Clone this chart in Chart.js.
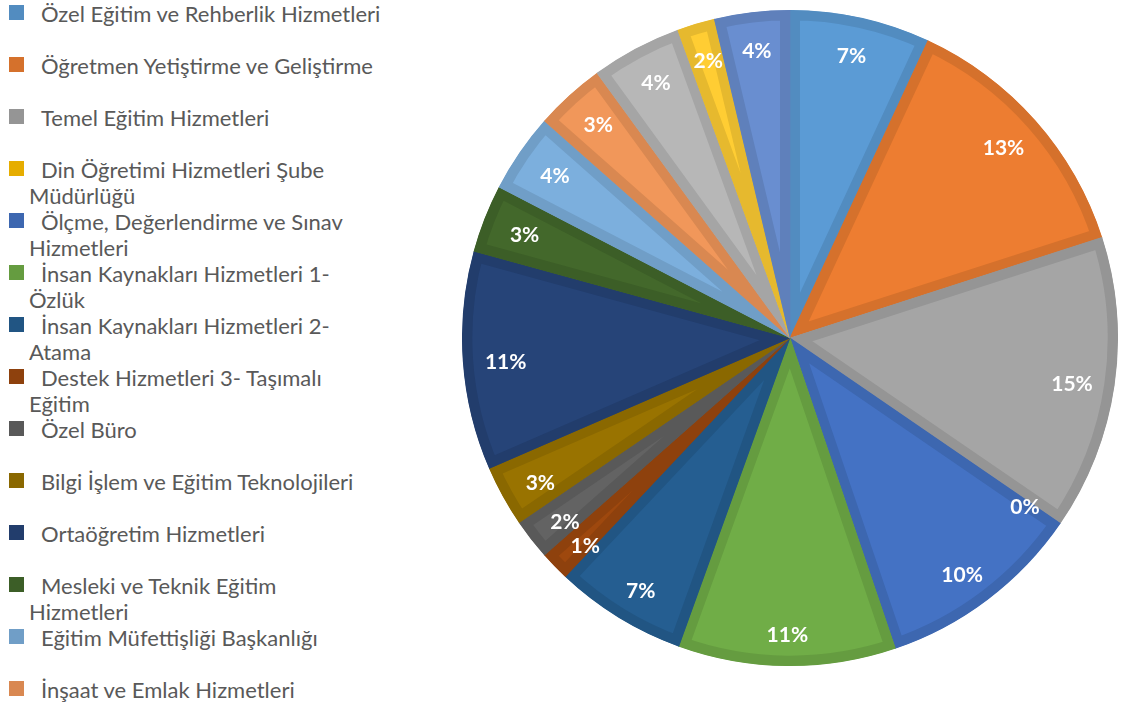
<!DOCTYPE html>
<html>
<head>
<meta charset="utf-8">
<script src="https://cdn.jsdelivr.net/npm/chart.js@4.4.1/dist/chart.umd.min.js"></script>
<style>
    body { margin: 0; background: #fff; width: 1123px; height: 703px; overflow: hidden; position: relative; font-family: Lato, sans-serif; }
    #legend { position: absolute; left: 0; top: 0; width: 440px; height: 703px; overflow: hidden; }
    .item { position: absolute; left: 29px; width: 400px; font-size: 22px; line-height: 26px; color: #595959; text-indent: 12px; white-space: nowrap; }
    .box { position: absolute; left: 9px; width: 15px; height: 15px; }
    #wrap { position: absolute; left: 462px; top: 10px; width: 656px; height: 656px; }
</style>
</head>
<body>
<div id="legend"></div>
<div id="wrap"><canvas id="pie"></canvas></div>
<script>
const categories = [
    ['Özel Eğitim ve Rehberlik Hizmetleri'],
    ['Öğretmen Yetiştirme ve Geliştirme'],
    ['Temel Eğitim Hizmetleri'],
    ['Din Öğretimi Hizmetleri Şube', 'Müdürlüğü'],
    ['Ölçme, Değerlendirme ve Sınav', 'Hizmetleri'],
    ['İnsan Kaynakları Hizmetleri 1-', 'Özlük'],
    ['İnsan Kaynakları Hizmetleri 2-', 'Atama'],
    ['Destek Hizmetleri 3- Taşımalı', 'Eğitim'],
    ['Özel Büro'],
    ['Bilgi İşlem ve Eğitim Teknolojileri'],
    ['Ortaöğretim Hizmetleri'],
    ['Mesleki ve Teknik Eğitim', 'Hizmetleri'],
    ['Eğitim Müfettişliği Başkanlığı'],
    ['İnşaat ve Emlak Hizmetleri'],
    ['Hayat Boyu Öğrenme Hizmetleri'],
    ['Özel Öğretim Kurumları Hizmetleri'],
    ['Strateji Geliştirme Hizmetleri'],
];
const values = [6.9, 13.1, 14.5, 0, 10.2, 10.7, 6.5, 1.45, 2.0, 3.0, 10.75, 3.35, 3.9, 3.45, 4.45, 1.85, 3.7];
const colors = [
    '#5B9BD5', '#ED7D31', '#A5A5A5', '#FFC000', '#4472C4', '#70AD47',
    '#255E91', '#9E480E', '#636363', '#997300', '#264478', '#43682B',
    '#7CAFDD', '#F1975A', '#B7B7B7', '#FFCD33', '#698ED0',
];

// slightly darker shade for the slice outlines and legend boxes
function darker(hex, f) {
    const n = parseInt(hex.slice(1), 16);
    const r = Math.round(((n >> 16) & 255) * f);
    const g = Math.round(((n >> 8) & 255) * f);
    const b = Math.round((n & 255) * f);
    return `rgb(${r}, ${g}, ${b})`;
}
const borders = colors.map((c) => darker(c, 0.9));

const legend = document.getElementById('legend');
categories.forEach((lines, i) => {
    const box = document.createElement('div');
    box.className = 'box';
    box.style.top = (5 + 52 * i) + 'px';
    box.style.background = borders[i];
    legend.appendChild(box);
    const item = document.createElement('div');
    item.className = 'item';
    item.style.top = (1 + 52 * i) + 'px';
    item.innerHTML = lines.join('<br>');
    legend.appendChild(item);
});

const pctLabels = {
    id: 'pctLabels',
    afterDatasetsDraw(chart) {
        const ctx = chart.ctx;
        const meta = chart.getDatasetMeta(0);
        const total = values.reduce((a, b) => a + b, 0);
        ctx.save();
        ctx.font = 'bold 21px Lato';
        ctx.fillStyle = '#ffffff';
        ctx.textAlign = 'center';
        ctx.textBaseline = 'middle';
        meta.data.forEach((arc, i) => {
            const p = arc.getProps(['x', 'y', 'startAngle', 'endAngle', 'outerRadius'], true);
            const mid = (p.startAngle + p.endAngle) / 2;
            // labels sit a little closer in at the sides than at top/bottom
            const lx = p.x + Math.cos(mid) * p.outerRadius * 0.869;
            const ly = p.y + Math.sin(mid) * p.outerRadius * 0.893 + 4;
            ctx.fillText(Math.round(values[i] / total * 100) + '%', lx, ly);
        });
        ctx.restore();
    },
};

document.addEventListener('DOMContentLoaded', () => {
    const ctx = document.getElementById('pie').getContext('2d');
    const chart = new Chart(ctx, {
        type: 'pie',
        data: {
            labels: categories.map((l) => l.join(' ')),
            datasets: [
                {
                    data: values,
                    backgroundColor: colors,
                    borderColor: borders,
                    borderWidth: 10,
                    borderAlign: 'inner',
                    borderJoinStyle: 'miter',
                },
            ],
        },
        options: {
            responsive: true,
            maintainAspectRatio: false,
            animation: false,
            layout: { padding: 0 },
            plugins: {
                legend: { display: false },
                tooltip: { enabled: false },
            },
        },
        plugins: [pctLabels],
    });
});
</script>
</body>
</html>
